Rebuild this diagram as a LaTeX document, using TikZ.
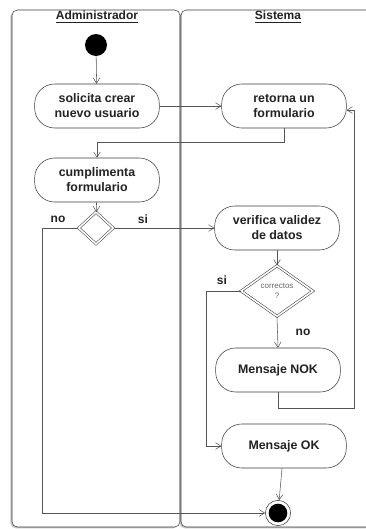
\documentclass[tikz,border=0pt]{standalone}
\usepackage{fontspec}
\setmainfont{Liberation Sans}
\usepackage{tikz}
\usetikzlibrary{shapes.geometric, arrows.meta, positioning, shadows}
\definecolor{LaneGray}{HTML}{3A3A3A}
\definecolor{LineGray}{HTML}{555555}
\definecolor{TextGray}{HTML}{222222}

\begin{document}
\begin{tikzpicture}[
  x=0.75pt, y=-0.75pt,
  lane/.style={draw=LaneGray, fill=white, rounded corners=4pt,
               drop shadow={shadow xshift=-1.2pt, shadow yshift=-1pt,
                            opacity=.45}},
  head/.style={font=\fontsize{9}{10}\selectfont\bfseries, text=TextGray},
  act/.style={rectangle, rounded corners=15pt, draw=LaneGray,
              minimum width=93.5pt, minimum height=33pt, align=center,
              font=\fontsize{9.3}{11.3}\selectfont\bfseries, text=TextGray},
  dec/.style={diamond, draw=LaneGray, double, double distance=1.2pt,
              inner sep=0pt, align=center},
  lbl/.style={font=\fontsize{9}{10}\selectfont\bfseries, text=TextGray},
  arr/.style={-{Straight Barb[length=4pt, width=5pt]}, LineGray},
]
\useasboundingbox (0,0) rectangle (365,529);

% calles
\draw[lane] (12,10) rectangle (180,527);
\draw[lane] (181,10) rectangle (372,527);
\node[head] (hadmin) at (97,17) {\underline{Administrador}};
\node[head] (hsis) at (278,17) {\underline{Sistema}};

% Administrador
\node[circle, fill=black, minimum size=16.5pt, inner sep=0pt] (inicio) at (96,45) {};
\node[act] (solicita) at (97,106) {solicita crear\\nuevo usuario};
\node[act] (cumplimenta) at (97,180) {cumplimenta\\formulario};
\node[dec, minimum width=26pt, minimum height=24pt] (dec1) at (96,228) {};

% Sistema
\node[act] (retorna) at (284,106) {retorna un\\formulario};
\node[act] (verifica) at (277,228) {verifica validez\\de datos};
\node[dec, minimum width=54pt, minimum height=38pt,
      font=\fontsize{6}{8}\selectfont, text=black!60] (dec2) at (277,291)
  {correctos\\?};
\node[act] (nok) at (278,370) {Mensaje NOK};
\node[act] (ok) at (284,446) {Mensaje OK};
\node[circle, draw=LaneGray, fill=white, minimum size=19pt, inner sep=0pt] (finext) at (278,513) {};
\node[circle, fill=black, minimum size=14pt, inner sep=0pt] (fin) at (278,513) {};

\node[lbl] (lno1) at (58,219) {no};
\node[lbl] (lsi1) at (143,219) {si};
\node[lbl] (lsi2) at (222,280) {si};
\node[lbl] (lno2) at (303,332) {no};

\draw[arr] (inicio) -- (solicita);
\draw[arr] (solicita) -- (retorna);
\draw[arr] (retorna.south) -- ++(0,14) -| (cumplimenta.north);
\draw[arr] (cumplimenta) -- (dec1);
\draw[arr] (dec1.east) -- (verifica.west);
\draw[arr] (dec1.west) -- ++(-36,0) |- (finext.west);
\draw[arr] (verifica) -- (dec2);
\draw[arr] (dec2.west) -- ++(-34,0) |- (ok.west);
\draw[arr] (dec2.south) -- (nok.north);
\draw[arr] (nok.south) -- ++(0,16) -| ([xshift=6pt, yshift=-3pt]retorna.east)
  -- ([yshift=-3pt]retorna.east);
\draw[arr] (ok) -- (finext);

\end{tikzpicture}
\end{document}
